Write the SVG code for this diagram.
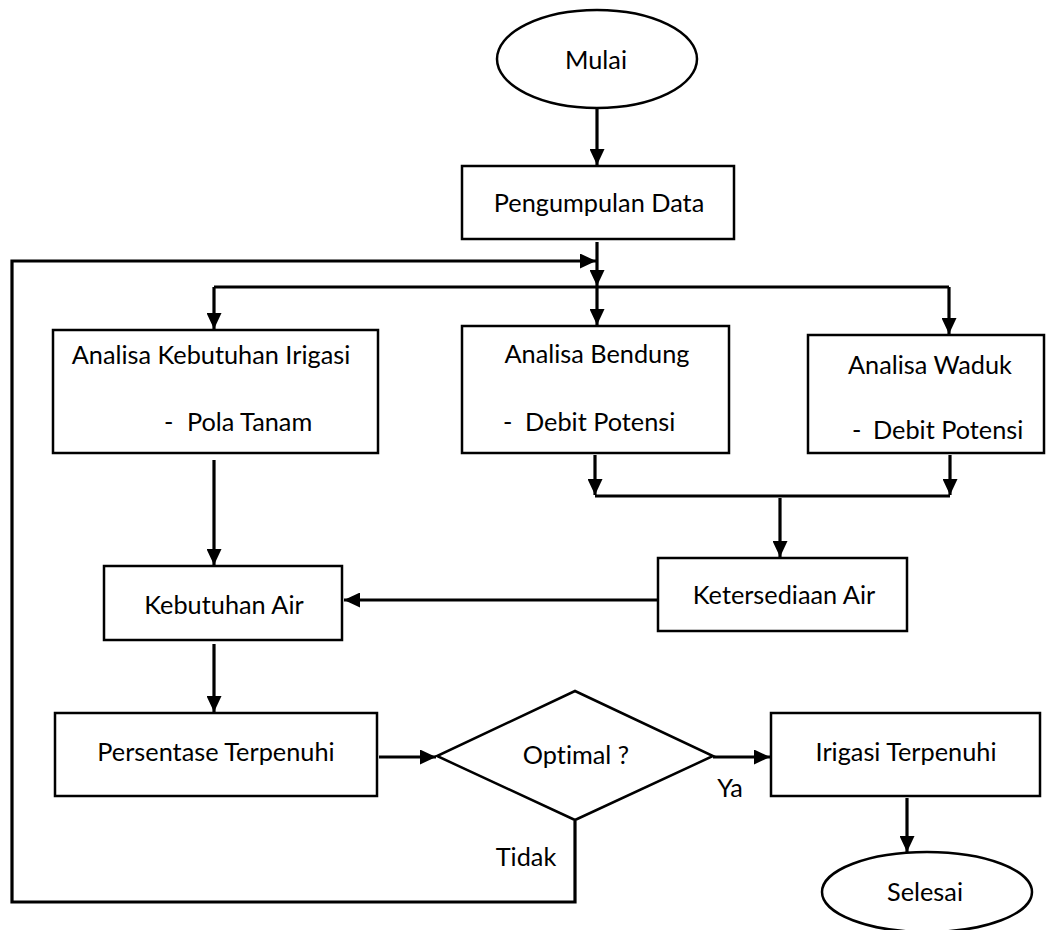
<svg xmlns="http://www.w3.org/2000/svg" width="1046" height="930" viewBox="0 0 1046 930">
<style>
.box{fill:#fff;stroke:#000;stroke-width:2.5}
.ln{fill:none;stroke:#000;stroke-width:3.2}
.t{font-family:Lato,"Open Sans","Liberation Sans",sans-serif;font-size:25.3px;fill:#000;font-variant-ligatures:none;font-feature-settings:"liga" 0,"clig" 0}
.c{text-anchor:middle}
</style>
<defs>
<marker id="ah" markerUnits="userSpaceOnUse" markerWidth="17" markerHeight="15" refX="16" refY="7.5" orient="auto">
<path d="M0,0 L16,7.5 L0,15 z" fill="#000"/>
</marker>
</defs>
<rect width="1046" height="930" fill="#fff"/>
<g id="connectors">
<path class="ln" d="M597,109 V165" marker-end="url(#ah)"/>
<path class="ln" d="M597,242 V286" marker-end="url(#ah)"/>
<path class="ln" d="M214,287 H949"/>
<path class="ln" d="M214,287 V329" marker-end="url(#ah)"/>
<path class="ln" d="M597,287 V325" marker-end="url(#ah)"/>
<path class="ln" d="M949,287 V334" marker-end="url(#ah)"/>
<path class="ln" d="M595,455 V495" marker-end="url(#ah)"/>
<path class="ln" d="M950,455 V495" marker-end="url(#ah)"/>
<path class="ln" d="M595,496 H950"/>
<path class="ln" d="M780,498 V557" marker-end="url(#ah)"/>
<path class="ln" d="M657,600 H344" marker-end="url(#ah)"/>
<path class="ln" d="M214,460 V565" marker-end="url(#ah)"/>
<path class="ln" d="M214,644 V712" marker-end="url(#ah)"/>
<path class="ln" d="M379,757 H436" marker-end="url(#ah)"/>
<path class="ln" d="M713,757 H770" marker-end="url(#ah)"/>
<path class="ln" d="M907,798 V852" marker-end="url(#ah)"/>
<path class="ln" d="M575,821 V902 H12 V261 H596" marker-end="url(#ah)"/>
<text class="t c" x="730" y="797">Ya</text>
<text class="t c" x="526" y="866">Tidak</text>
</g>
<g id="mulai">
<ellipse class="box" cx="597" cy="59" rx="100" ry="49"/>
<text class="t c" x="596" y="69">Mulai</text>
</g>
<g id="pengumpulan">
<rect class="box" x="462" y="166" width="272" height="73"/>
<text class="t c" x="599" y="212">Pengumpulan Data</text>
</g>
<g id="kebutuhan-irigasi">
<rect class="box" x="53" y="330" width="325" height="123"/>
<text class="t c" x="211" y="364">Analisa Kebutuhan Irigasi</text>
<text class="t" x="164" y="431"><tspan>-</tspan><tspan x="187">Pola Tanam</tspan></text>
</g>
<g id="bendung">
<rect class="box" x="462" y="326" width="267" height="127"/>
<text class="t c" x="597" y="363">Analisa Bendung</text>
<text class="t" x="503" y="431"><tspan>-</tspan><tspan x="525">Debit Potensi</tspan></text>
</g>
<g id="waduk">
<rect class="box" x="808" y="335" width="236" height="118"/>
<text class="t c" x="930" y="374">Analisa Waduk</text>
<text class="t" x="852" y="439"><tspan>-</tspan><tspan x="873">Debit Potensi</tspan></text>
</g>
<g id="ketersediaan">
<rect class="box" x="658" y="558" width="249" height="73"/>
<text class="t c" x="784" y="604">Ketersediaan Air</text>
</g>
<g id="kebutuhan-air">
<rect class="box" x="104" y="566" width="238" height="74"/>
<text class="t c" x="224" y="614">Kebutuhan Air</text>
</g>
<g id="persentase">
<rect class="box" x="55" y="713" width="322" height="83"/>
<text class="t c" x="216" y="761">Persentase Terpenuhi</text>
</g>
<g id="optimal">
<polygon class="box" points="575,691 713,756 575,820 437,756"/>
<text class="t c" x="576" y="764">Optimal ?</text>
</g>
<g id="irigasi-terpenuhi">
<rect class="box" x="771" y="713" width="269" height="83"/>
<text class="t c" x="906" y="761">Irigasi Terpenuhi</text>
</g>
<g id="selesai">
<ellipse class="box" cx="927" cy="892" rx="105" ry="40"/>
<text class="t c" x="925" y="901">Selesai</text>
</g>
</svg>
